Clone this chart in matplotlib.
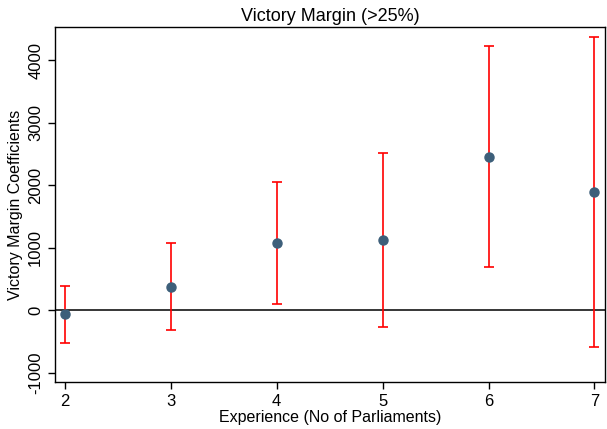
import matplotlib.pyplot as plt
import matplotlib.ticker as mticker

plt.rcParams['font.family'] = ['Liberation Sans', 'DejaVu Sans']
plt.rcParams['axes.unicode_minus'] = False

# Coefficients and confidence intervals by experience
experience = [2, 3, 4, 5, 6, 7]
coef = [-64, 368, 1072, 1120, 2448, 1888]
ci_low = [-528, -320, 96, -272, 688, -592]
ci_high = [384, 1072, 2048, 2512, 4224, 4368]

fig = plt.figure(figsize=(6.07, 4.29), dpi=100)
ax = fig.add_axes([55/607, 1 - 382/429, 550/607, 355/429])

err_lo = [c - l for c, l in zip(coef, ci_low)]
err_hi = [h - c for c, h in zip(coef, ci_high)]
ax.axhline(0, color='black', lw=1.1, zorder=1)
ax.errorbar(experience, coef, yerr=[err_lo, err_hi], fmt='none',
            ecolor='red', elinewidth=1.2, capsize=3.5, capthick=1.2, zorder=2)
ax.plot(experience, coef, 'o', color='#3d5f7a', ms=6.5, zorder=3)

ax.set_xlim(1.906, 7.1)
ax.set_ylim(-1152, 4530)
ax.set_xticks(experience)
ax.set_yticks([-1000, 0, 1000, 2000, 3000, 4000])
ax.yaxis.set_major_formatter(mticker.FuncFormatter(lambda v, p: f"{int(v)}"))
for lbl in ax.get_yticklabels():
    lbl.set_rotation(90)
    lbl.set_va('center')
ax.tick_params(labelsize=12, length=5, width=1, color='black')
for s in ax.spines.values():
    s.set_linewidth(1)

ax.set_title("Victory Margin (>25%)", fontsize=13, pad=4)
ax.set_xlabel("Experience (No of Parliaments)", fontsize=11.5, labelpad=1)
ax.set_ylabel("Victory Margin Coefficients", fontsize=11.5, labelpad=4)

fig.savefig('out.png', dpi=100)
